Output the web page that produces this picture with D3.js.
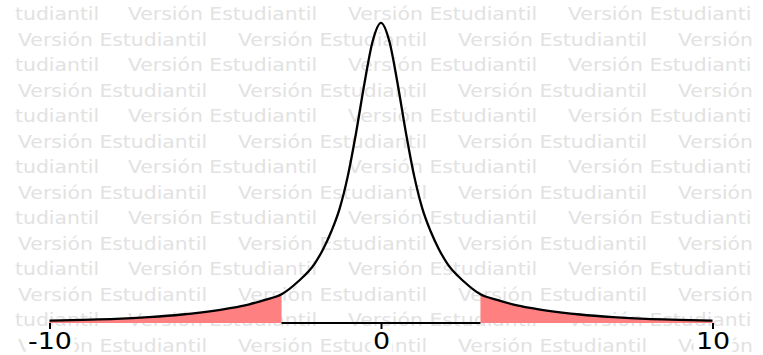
<!DOCTYPE html>
<html>
<head>
<meta charset="utf-8">
<script src="https://cdn.jsdelivr.net/npm/d3@7"></script>
<style>
  html, body { margin: 0; padding: 0; background: #fff; }
  svg { display: block; }
</style>
</head>
<body>
<svg id="chart" width="763" height="355"></svg>
<script>
// Density curve, sampled along the x axis
const xValues = [-10, -9, -8, -7, -6, -5, -4.5, -4, -3.5, -3, -2.5, -2, -1.75, -1.5, -1.25, -1, -0.75, -0.5, -0.25,
                 0, 0.25, 0.5, 0.75, 1, 1.25, 1.5, 1.75, 2, 2.5, 3, 3.5, 4, 4.5, 5, 6, 7, 8, 9, 10];
const densityValues = [0.0025, 0.0033, 0.0043, 0.0062, 0.0090, 0.0132, 0.0160, 0.0196, 0.0245, 0.0305, 0.0440, 0.0630, 0.0780, 0.0970, 0.1210, 0.1560, 0.2020, 0.2540, 0.2990,
                       0.3183, 0.2990, 0.2540, 0.2020, 0.1560, 0.1210, 0.0970, 0.0780, 0.0630, 0.0440, 0.0305, 0.0245, 0.0196, 0.0160, 0.0132, 0.0090, 0.0062, 0.0043, 0.0033, 0.0025];

// Rejection region boundaries (two tails)
const lowerCut = -3;
const upperCut = 3;

// Axis
const tickValues = [-10, 0, 10];
const tickLabels = ["-10", "0", "10"];

// Background watermark: two alternating row patterns
const watermarkText = "Versión Estudiantil";
const rowPatternA = ["tudiantil", watermarkText, watermarkText, "Versión Estudianti"];
const rowPatternB = [watermarkText, watermarkText, watermarkText, "Versión"];

const W = 763, H = 355;
const svg = d3.select("#chart");

const x = d3.scaleLinear().domain([-10, 10]).range([49.5, 712.5]);
const y = d3.scaleLinear().domain([0, 0.3183]).range([323, 22.8]);

const points = xValues.map((v, i) => ({ x: v, d: densityValues[i] }));

// ---- watermark ----
const wmStretch = 1.165;
const wm = svg.append("g").attr("transform", `scale(${wmStretch},1)`)
  .attr("font-family", "'DejaVu Sans', Verdana, sans-serif")
  .attr("font-size", 17.5)
  .attr("fill", "#e2e2e2");
for (let r = 0; r < 14; r++) {
  const baseY = 20.5 + r * 25.5;
  const pattern = (r % 2 === 0) ? rowPatternA : rowPatternB;
  const starts = (r % 2 === 0) ? [15, 128, 348, 568] : [18, 238, 458, 678];
  pattern.forEach((txt, k) => {
    wm.append("text")
      .attr("x", starts[k] / wmStretch)
      .attr("y", baseY)
      .text(txt);
  });
}

// ---- axis ----
const labelStretch = 1.17;
const axis = d3.axisBottom(x)
  .tickValues(tickValues)
  .tickFormat((d, i) => tickLabels[i])
  .tickSizeInner(6)
  .tickSizeOuter(0)
  .tickPadding(4);

const gAxis = svg.append("g")
  .attr("transform", `translate(0,${y(0)})`)
  .call(axis);
gAxis.select(".domain")
  .attr("stroke", "#000")
  .attr("stroke-width", 2)
  .attr("d", `M${x(lowerCut)},0H${x(upperCut)}`);
gAxis.selectAll(".tick line").attr("stroke", "#000").attr("stroke-width", 2);
gAxis.selectAll(".tick text")
  .attr("fill", "#000")
  .attr("font-family", "'DejaVu Sans', Verdana, sans-serif")
  .attr("font-size", 23)
  .attr("transform", `scale(${labelStretch},1)`);

// ---- shaded tails ----
const area = d3.area()
  .x(p => x(p.x))
  .y0(y(0))
  .y1(p => y(p.d));

svg.append("path")
  .datum(points.filter(p => p.x <= lowerCut))
  .attr("d", area)
  .attr("fill", "#ff8080");
svg.append("path")
  .datum(points.filter(p => p.x >= upperCut))
  .attr("d", area)
  .attr("fill", "#ff8080");

// ---- density curve ----
const line = d3.line()
  .x(p => x(p.x))
  .y(p => y(p.d))
  .curve(d3.curveMonotoneX);

svg.append("path")
  .datum(points)
  .attr("d", line)
  .attr("fill", "none")
  .attr("stroke", "#000")
  .attr("stroke-width", 2.3)
  .attr("stroke-linejoin", "round");

// ticks and labels on top
gAxis.raise();

// white boxes behind tick labels
gAxis.selectAll(".tick").each(function () {
  const t = d3.select(this).select("text");
  const bb = t.node().getBBox();
  d3.select(this).insert("rect", "text")
    .attr("x", bb.x - 2)
    .attr("y", bb.y + 3)
    .attr("width", bb.width + 4)
    .attr("height", bb.height - 3)
    .attr("fill", "#fff")
    .attr("transform", `scale(${labelStretch},1)`);
});
</script>
</body>
</html>
